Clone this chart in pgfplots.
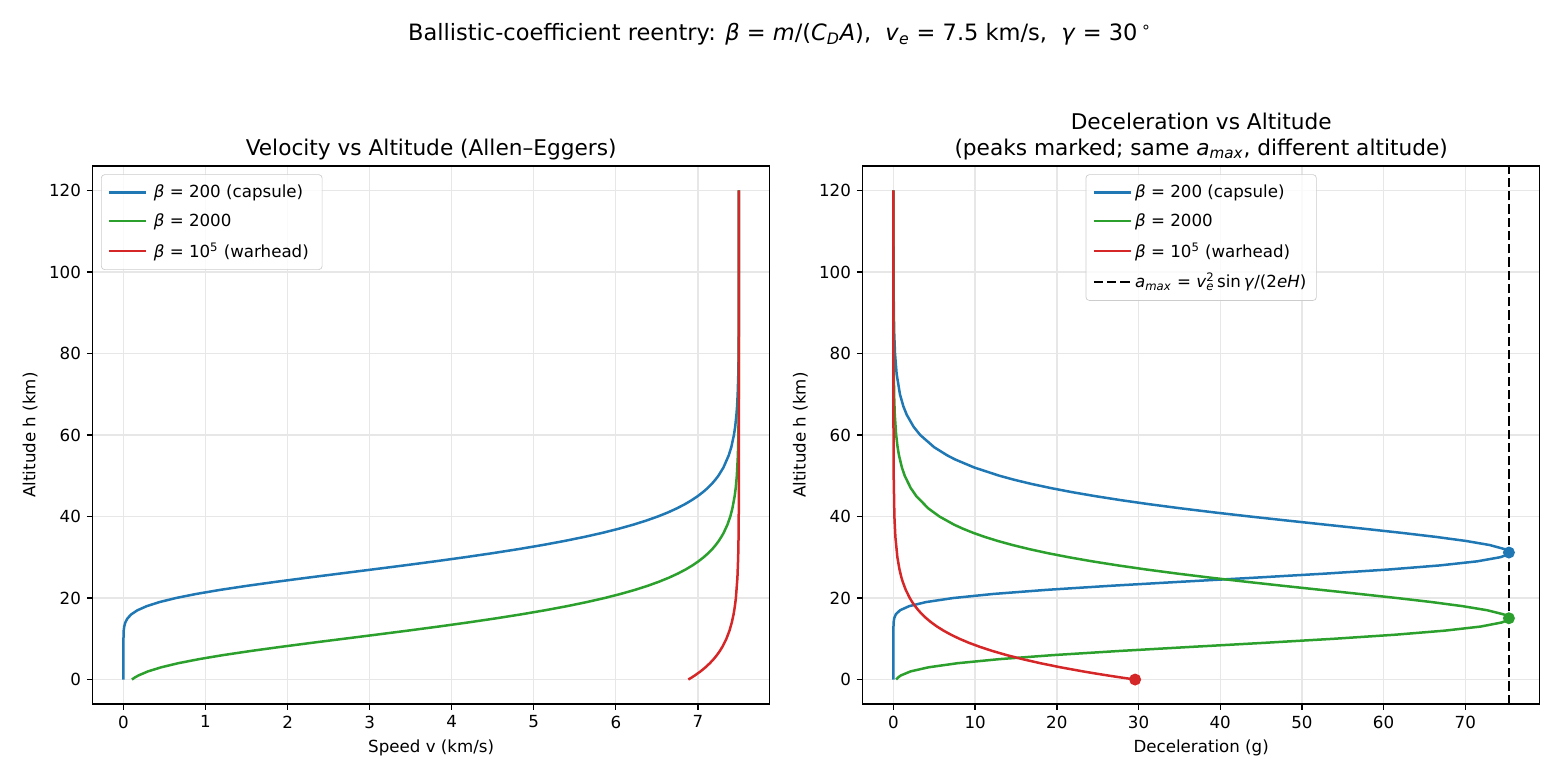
\documentclass[border=0pt]{standalone}
\usepackage{fontspec}
\setmainfont{DejaVu Sans}
\usepackage{pgfplots}
\pgfplotsset{compat=1.18}
\definecolor{tabblue}{HTML}{1F77B4}
\definecolor{tabgreen}{HTML}{2CA02C}
\definecolor{tabred}{HTML}{D62728}
\definecolor{gridc}{HTML}{E7E7E7}
\pgfplotsset{
  mystyle/.style={
    scale only axis, width=406.2pt, height=322.8pt,
    ymin=-6, ymax=126, ytick={0,20,...,120},
    tick pos=left, tick align=outside, major tick length=3.5pt,
    every tick/.style={black, line width=0.8pt},
    axis line style={line width=0.8pt},
    grid=major, major grid style={gridc, line width=0.8pt},
    tick label style={font=\fontsize{10}{12}\selectfont},
    label style={font=\fontsize{10}{12}\selectfont},
    /pgf/number format/assume math mode=true,
    title style={font=\fontsize{13}{15.6}\selectfont, align=center, inner sep=0pt, yshift=-2.5pt, anchor=south, at={(0.5,1)}},
    legend style={font=\fontsize{10}{12}\selectfont, draw=black!20, rounded corners=2pt, fill=white, fill opacity=0.8, text opacity=1, draw opacity=1, inner xsep=4pt, inner ysep=4pt, row sep=4.2pt},
    legend cell align=left,
    legend image code/.code={\draw[#1] (0pt,0pt) -- (22pt,0pt);},
    every axis plot/.append style={line width=1.5pt},
    ylabel={Altitude h (km)},
  }
}
\begin{document}
\begin{tikzpicture}
\path[use as bounding box] (0,0) rectangle (936pt,468pt);
\node[anchor=north, font=\fontsize{13.5}{16}\selectfont, inner sep=0pt] at (468pt,454pt)
  {Ballistic-coefficient reentry: \textit{β} = \textit{m}/(\textit{C}\textsubscript{\textit{D}}\textit{A}), \ \textit{v}\textsubscript{\textit{e}} = 7.5 km/s, \ \textit{γ} = 30\,\textsuperscript{∘}};

\begin{axis}[mystyle, at={(55.6pt,45.6pt)}, anchor=south west,
  xmin=-0.375, xmax=7.875, xtick={0,1,...,7},
  xlabel={Speed v (km/s)},
  title={Velocity vs Altitude (Allen–Eggers)},
  legend style={at={(0,1)}, anchor=north west, xshift=5pt, yshift=-5pt, nodes={inner xsep=4pt}}]
\addplot[tabblue] coordinates {(0,0) (0.0003,10) (0.0033,12) (0.0093,13) (0.0226,14) (0.049,15) (0.0958,16) (0.171,17) (0.283,18) (0.438,19) (0.639,20) (0.887,21) (1.179,22) (1.508,23) (1.867,24) (2.247,25) (2.638,26) (3.031,27) (3.420,28) (3.797,29) (4.157,30) (4.497,31) (4.814,32) (5.107,33) (5.374,34) (5.618,35) (5.839,36) (6.036,37) (6.213,38) (6.371,39) (6.511,40) (6.635,41) (6.744,42) (6.840,43) (6.924,44) (6.998,45) (7.063,46) (7.120,47) (7.169,48) (7.212,49) (7.250,50) (7.311,52) (7.376,55) (7.407,57) (7.439,60) (7.4543,62) (7.470,65) (7.4776,67) (7.485,70) (7.4928,75) (7.4965,80) (7.4983,85) (7.4992,90) (7.4998,100) (7.5,120)};
\addlegendentry{\textit{β} = 200 (capsule)}
\addplot[tabgreen] coordinates {(0.1030,0) (0.1385,0.5) (0.1823,1) (0.2992,2) (0.4593,3) (0.6660,4) (0.9196,5) (1.2158,6) (1.5491,7) (1.911,8) (2.292,9) (2.684,10) (3.078,11) (3.465,12) (3.840,13) (4.198,14) (4.535,15) (4.849,16) (5.139,17) (5.405,18) (5.645,19) (5.863,20) (6.058,21) (6.233,22) (6.389,23) (6.526,24) (6.648,25) (6.756,26) (6.8504,27) (6.934,28) (7.0064,29) (7.070,30) (7.126,31) (7.175,32) (7.2172,33) (7.254,34) (7.286,35) (7.3145,36) (7.3602,38) (7.395,40) (7.4207,42) (7.448,45) (7.4611,47) (7.4746,50) (7.4875,55) (7.4939,60) (7.4985,70) (7.4996,80) (7.5,120)};
\addlegendentry{\textit{β} = 2000}
\addplot[tabred] coordinates {(6.8837,0) (6.9245,0.5) (6.9627,1) (7.0319,2) (7.0925,3) (7.1455,4) (7.1917,5) (7.2320,6) (7.2671,7) (7.2977,8) (7.3474,10) (7.3851,12) (7.4134,14) (7.4349,16) (7.4510,18) (7.4632,20) (7.4819,25) (7.4912,30) (7.4957,35) (7.4979,40) (7.4995,50) (7.5,120)};
\addlegendentry{\textit{β} = 10\textsuperscript{5} (warhead)}
\end{axis}

\begin{axis}[mystyle, at={(517.6pt,45.6pt)}, anchor=south west,
  xmin=-3.767, xmax=79.107, xtick={0,10,...,70},
  xlabel={Deceleration (g)},
  title={Deceleration vs Altitude\\(peaks marked; same \textit{a}\textsubscript{\textit{max}}, different altitude)},
  legend style={at={(0.5,1)}, anchor=north, yshift=-5pt}]
\addplot[tabblue] coordinates {(0,0) (0,10) (0.0006,12) (0.0042,13) (0.0217,14) (0.088,15) (0.291,16) (0.806,17) (1.914,18) (3.968,19) (7.32,20) (12.23,21) (18.72,22) (26.56,23) (35.29,24) (44.31,25) (52.94,26) (60.62,27) (66.88,28) (71.45,29) (74.25,30) (74.99,30.5) (75.31,31) (75.34,31.16) (75.24,31.5) (74.82,32) (72.99,33) (70.09,34) (66.40,35) (62.16,36) (57.60,37) (52.90,38) (48.22,39) (43.65,40) (39.29,41) (35.19,42) (31.38,43) (27.88,44) (24.70,45) (21.80,46) (19.21,47) (16.88,48) (14.81,49) (12.98,50) (9.921,52) (7.547,54) (6.585,55) (4.986,57) (3.274,60) (2.472,62) (1.617,65) (1.217,67) (0.794,70) (0.390,75) (0.191,80) (0.0935,85) (0.046,90) (0.011,100) (0.0026,110) (0.0006,120)};
\addlegendentry{\textit{β} = 200 (capsule)}
\addplot[tabgreen] coordinates {(0.3316,0) (0.557,0.5) (0.900,1) (2.098,2) (4.288,3) (7.820,4) (12.93,5) (19.58,6) (27.56,7) (36.35,8) (45.35,9) (53.90,10) (61.43,11) (67.50,12) (71.88,13) (74.46,14) (75.10,14.5) (75.33,15) (75.34,15.04) (75.18,15.5) (74.67,16) (72.69,17) (69.68,18) (65.92,19) (61.63,20) (57.05,21) (52.34,22) (47.67,23) (43.13,24) (38.79,25) (34.73,26) (30.95,27) (27.49,28) (24.33,29) (21.48,30) (18.91,31) (16.62,32) (14.58,33) (12.77,34) (11.168,35) (9.756,36) (8.513,37) (7.422,38) (5.630,40) (4.261,42) (2.799,45) (2.110,47) (1.379,50) (1.0387,52) (0.679,55) (0.5099,57) (0.332,60) (0.163,65) (0.0797,70) (0.0191,80) (0.0046,90) (0.0011,100) (0,120)};
\addlegendentry{\textit{β} = 2000}
\addplot[tabred] coordinates {(29.585,0) (27.87,0.5) (26.239,1) (24.681,1.5) (23.200,2) (20.461,3) (18.002,4) (15.808,5) (13.858,6) (12.130,7) (10.604,8) (9.259,9) (8.078,10) (7.041,11) (6.132,12) (5.338,13) (4.644,14) (4.038,15) (3.510,16) (3.050,17) (2.649,18) (2.3005,19) (1.997,20) (1.505,22) (1.1328,24) (0.9827,25) (0.7393,27) (0.4823,30) (0.2363,35) (0.1158,40) (0.0278,50) (0.0067,60) (0.0016,70) (0,120)};
\addlegendentry{\textit{β} = 10\textsuperscript{5} (warhead)}
\addplot[black, dash pattern=on 5.55pt off 2.4pt] coordinates {(75.34,-6) (75.34,126)};
\addlegendentry{\textit{a}\textsubscript{\textit{max}} = \textit{v}\rlap{\textsuperscript{2}}\textsubscript{\textit{e}}\,sin\,\textit{γ}/(2\textit{eH})}
\addplot[only marks, mark=*, mark size=2.8pt, tabblue, forget plot] coordinates {(75.34,31.16)};
\addplot[only marks, mark=*, mark size=2.8pt, tabgreen, forget plot] coordinates {(75.34,15.04)};
\addplot[only marks, mark=*, mark size=2.8pt, tabred, forget plot] coordinates {(29.585,0)};
\end{axis}
\end{tikzpicture}
\end{document}
